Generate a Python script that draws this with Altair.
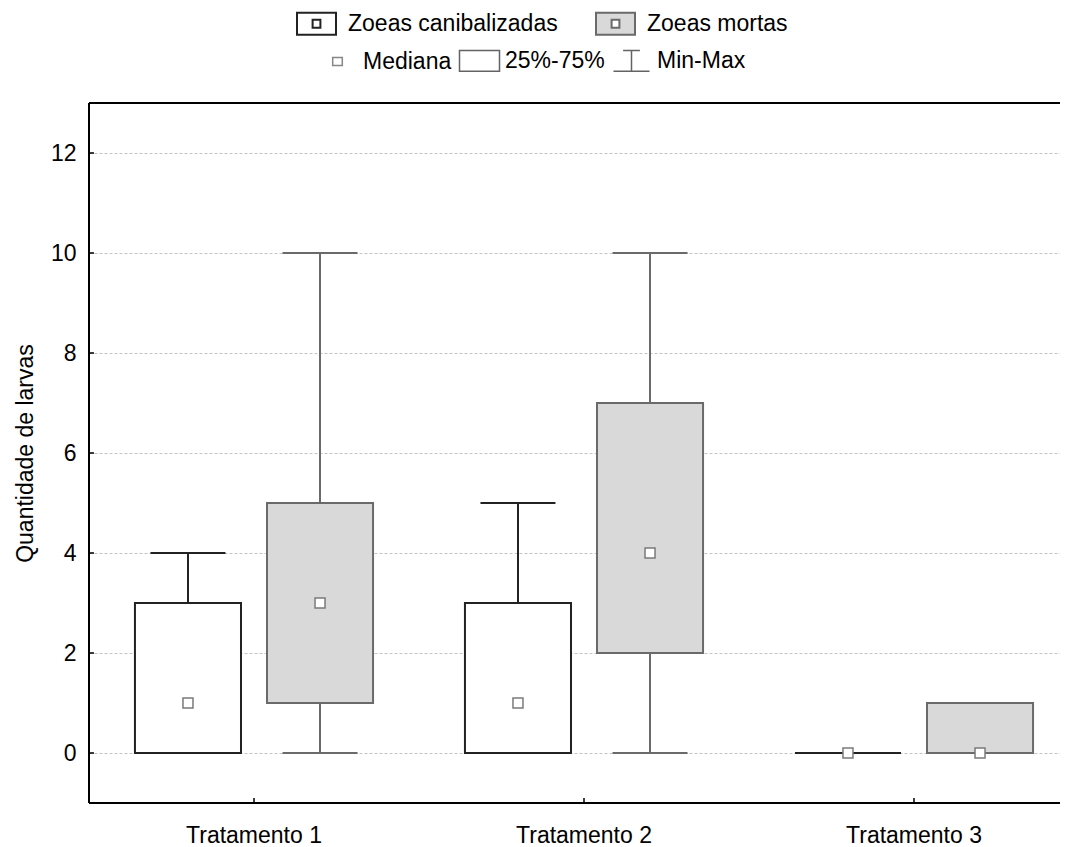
import altair as alt
import pandas as pd

# ---- data ----
treats = ["Tratamento 1", "Tratamento 2", "Tratamento 3"]
series = ["Zoeas canibalizadas", "Zoeas mortas"]
stat_kinds = ["Mediana", "25%-75%", "Min-Max"]
y_ticks = [0, 2, 4, 6, 8, 10, 12]
y_domain = [-1, 13]

canib_min = [0, 0, 0]
canib_q1 = [0, 0, 0]
canib_med = [1, 1, 0]
canib_q3 = [3, 3, 0]
canib_max = [4, 5, 0]

mortas_min = [0, 0, 0]
mortas_q1 = [1, 2, 0]
mortas_med = [3, 4, 0]
mortas_q3 = [5, 7, 1]
mortas_max = [10, 10, 1]

rows = []
for i, t in enumerate(treats):
    rows.append(dict(treat=t, series=series[0], mn=canib_min[i], q1=canib_q1[i],
                     med=canib_med[i], q3=canib_q3[i], mx=canib_max[i]))
    rows.append(dict(treat=t, series=series[1], mn=mortas_min[i], q1=mortas_q1[i],
                     med=mortas_med[i], q3=mortas_q3[i], mx=mortas_max[i]))
df = pd.DataFrame(rows)

# plot area runs past the right edge of the picture, as in the reference
W, H = 990, 700
FONT = "Liberation Sans"
FS = 23

x_scale = alt.Scale(domain=treats, paddingInner=0, paddingOuter=0)
x_axis = alt.Axis(title=None, labelAngle=0, labelFontSize=FS, labelColor="black",
                  labelPadding=21, ticks=False, tickSize=0, domain=False,
                  grid=False, orient="bottom")
x_enc = alt.X("treat:N", sort=treats, scale=x_scale, axis=x_axis)
xo_enc = alt.XOffset("series:N", sort=series,
                     scale=alt.Scale(domain=series, paddingInner=0.197, paddingOuter=0.348))
y_scale = alt.Scale(domain=y_domain, nice=False, zero=False)
y_axis = alt.Axis(title="Quantidade de larvas", values=y_ticks, labelFontSize=FS,
                  labelColor="black", labelPadding=13, ticks=False, tickSize=0,
                  domain=False, grid=True, gridColor="#c4c4c4",
                  gridDash=[3, 2], gridWidth=1, titleFontSize=FS, titleFontWeight="normal",
                  titleColor="black", titlePadding=13, orient="left")


def yq(field):
    return alt.Y(field, type="quantitative", scale=y_scale, axis=y_axis)


series_stroke = alt.condition(alt.datum.series == series[0], alt.value("#222222"), alt.value("#6a6a6a"))

base = alt.Chart(df).encode(x=x_enc, xOffset=xo_enc)

legend_path1 = "M-1,-0.564H1V0.564H-1Z M-0.2,-0.2V0.2H0.2V-0.2Z"
leg1 = alt.Legend(title=None, orient="none", legendX=207, legendY=-100, direction="horizontal",
                  symbolType=legend_path1, symbolSize=1521, symbolStrokeWidth=2,
                  labelFontSize=FS, labelColor="black", labelOffset=11, columnPadding=34,
                  padding=0, labelFont=FONT, labelLimit=500)

boxes = base.mark_bar(strokeWidth=2).encode(
    y=yq("q1"),
    y2="q3:Q",
    fill=alt.Fill("series:N", scale=alt.Scale(domain=series, range=["#ffffff", "#d9d9d9"]), legend=leg1),
    stroke=alt.Stroke("series:N", scale=alt.Scale(domain=series, range=["#222222", "#6a6a6a"]), legend=leg1),
)

whisk_hi = base.mark_rule(strokeWidth=2).encode(y=yq("q3"), y2="mx:Q", stroke=series_stroke)
whisk_lo = base.mark_rule(strokeWidth=2).encode(y=yq("mn"), y2="q1:Q", stroke=series_stroke)
cap_hi = base.mark_tick(thickness=2, size=75, opacity=1).encode(y=yq("mx"), color=series_stroke)
cap_lo = base.mark_tick(thickness=2, size=75, opacity=1).encode(y=yq("mn"), color=series_stroke)
medians = base.mark_square(size=100, fill="white", stroke="#7a7a7a", strokeWidth=1.5,
                           opacity=1, fillOpacity=1).encode(y=yq("med"))

# second legend row (Mediana / 25%-75% / Min-Max)
kind_df = pd.DataFrame({"kind": stat_kinds})
shape_paths = [
    "M-0.24,-0.2H0.24V0.2H-0.24Z",
    "M-1,-0.52H1V0.52H-1Z",
    "M-0.42,-0.52H0.42M0,-0.52V0.52M-0.9,0.52H0.9",
]
leg2 = alt.Legend(title=None, orient="none", legendX=227.5, legendY=-63.5, direction="horizontal",
                  symbolSize=1600, symbolStrokeWidth=1.5, symbolFillColor="white",
                  labelFontSize=FS, labelColor="black", labelOffset=4.5, columnPadding=5,
                  padding=0, labelFont=FONT, labelLimit=500)
legend2 = alt.Chart(kind_df).transform_filter("false").mark_point(filled=False).encode(
    shape=alt.Shape("kind:N", scale=alt.Scale(domain=stat_kinds, range=shape_paths), legend=leg2),
    color=alt.Color("kind:N", scale=alt.Scale(domain=stat_kinds, range=["#555555", "#222222", "#222222"]),
                    legend=leg2),
)

# inward axis ticks and frame lines (left, bottom, top)
ytick_df = pd.DataFrame({"v": y_ticks})
yticks = alt.Chart(ytick_df).mark_rule(color="black", strokeWidth=1.5).encode(
    y=yq("v"), x=alt.value(0), x2=alt.value(5))
xtick_df = pd.DataFrame({"treat": treats})
xticks = alt.Chart(xtick_df).mark_rule(color="black", strokeWidth=1.5).encode(
    x=x_enc, y=alt.value(H), y2=alt.value(H - 5))
frame_df = pd.DataFrame({"top": [y_domain[1]], "bottom": [y_domain[0]]})
topline = alt.Chart(frame_df).mark_rule(color="black", strokeWidth=2).encode(
    y=yq("top"), x=alt.value(0), x2=alt.value(W))
bottomline = alt.Chart(frame_df).mark_rule(color="black", strokeWidth=2).encode(
    y=yq("bottom"), x=alt.value(0), x2=alt.value(W))
leftline = alt.Chart(frame_df).mark_rule(color="black", strokeWidth=2).encode(
    y=yq("bottom"), y2="top:Q", x=alt.value(0))

chart = alt.layer(
    boxes, whisk_hi, whisk_lo, cap_hi, cap_lo, medians, legend2, yticks, xticks,
    topline, bottomline, leftline
).properties(
    width=W, height=H,
    autosize=alt.AutoSizeParams(type="none"),
    padding={"left": 81, "top": 95, "right": -19, "bottom": 44},
).configure(font=FONT).configure_view(strokeWidth=0, strokeOpacity=0)

chart.save("out.html", embed_options={"renderer": "svg", "actions": False})
